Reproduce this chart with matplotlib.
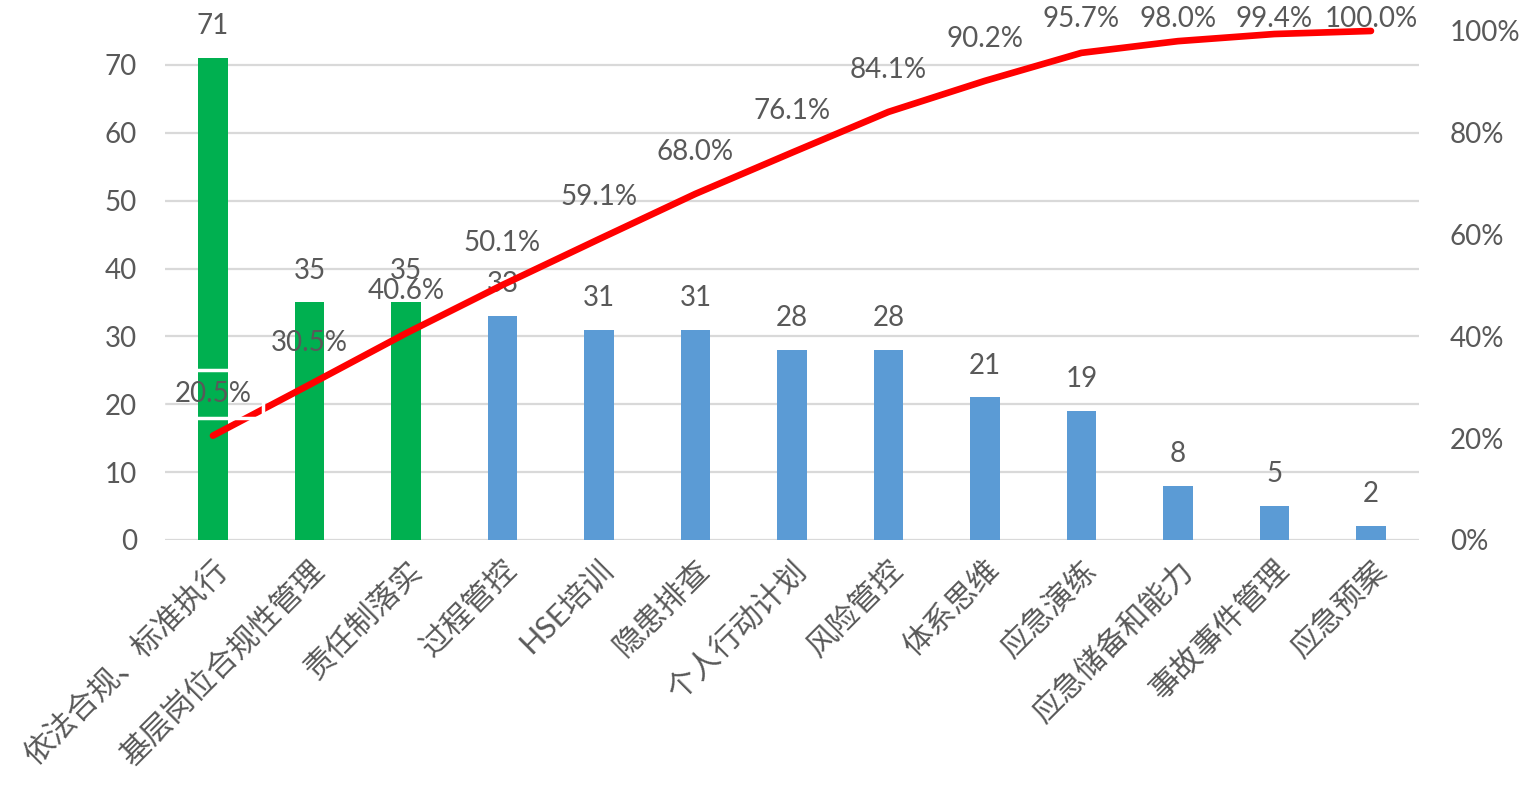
import matplotlib
matplotlib.use("Agg")
import matplotlib.pyplot as plt
from matplotlib.ticker import FuncFormatter

plt.rcParams['font.family'] = ['Lato', 'Noto Sans CJK SC', 'DejaVu Sans']

categories = ['依法合规、标准执行', '基层岗位合规性管理', '责任制落实', '过程管控', 'HSE培训',
              '隐患排查', '个人行动计划', '风险管控', '体系思维', '应急演练',
              '应急储备和能力', '事故事件管理', '应急预案']
counts = [71, 35, 35, 33, 31, 31, 28, 28, 21, 19, 8, 5, 2]
cum_pct = [20.5, 30.5, 40.6, 50.1, 59.1, 68.0, 76.1, 84.1, 90.2, 95.7, 98.0, 99.4, 100.0]
n_green = 3

GREEN = '#00B050'
BLUE = '#5B9BD5'
RED = '#FF0000'
TXT = '#595959'
GRID = '#D9D9D9'
FS = 20      # numbers
FS_CAT = 22  # category labels

fig = plt.figure(figsize=(15.28, 7.94), dpi=100)
ax = fig.add_axes([0.1078, 0.3199, 0.8210, 0.6411])
ax2 = ax.twinx()

x = list(range(len(categories)))
colors = [GREEN if i < n_green else BLUE for i in x]
ax.bar(x, counts, width=0.31, color=colors, zorder=2)
ax.set_xlim(-0.5, len(categories) - 0.5)
ax.set_ylim(0, 75)
ax.set_yticks(range(0, 71, 10))
for v in range(0, 71, 10):
    ax.axhline(v, color=GRID, lw=1.6, zorder=0)

for xi, c in zip(x, counts):
    ax.annotate(str(c), (xi, c), xytext=(0, 23), textcoords='offset points',
                ha='center', va='center', fontsize=FS, color=TXT, zorder=5,
                annotation_clip=False)

ax2.plot(x, [p / 100 for p in cum_pct], color=RED, lw=4.8, zorder=3,
         solid_capstyle='round', solid_joinstyle='round', clip_on=False)
ax2.set_ylim(0, 1.0)
ax2.set_yticks([0, 0.2, 0.4, 0.6, 0.8, 1.0])
ax2.yaxis.set_major_formatter(FuncFormatter(lambda v, _: f'{v * 100:.0f}%'))

# percentage labels sit above the points but stay inside the chart area
fig_h = fig.get_figheight() * fig.dpi
for i, (xi, p) in enumerate(zip(x, cum_pct)):
    px, py = ax2.transData.transform((xi, p / 100))
    ty = min(py + 42, fig_h - 19)
    kw = {}
    if i == 0:
        kw['bbox'] = dict(boxstyle='square,pad=0.4', fc='none', ec='white', lw=2.5)
    ax2.annotate(f'{p:.1f}%', (xi, p / 100), xytext=(px, ty), textcoords='figure pixels',
                 ha='center', va='center', fontsize=FS, color=TXT, zorder=6,
                 annotation_clip=False, **kw)

for a in (ax, ax2):
    for s in a.spines.values():
        s.set_visible(False)
    a.tick_params(length=0, labelsize=FS, labelcolor=TXT)
ax.tick_params(axis='y', pad=20)
ax2.tick_params(axis='y', pad=22)

ax.set_xticks(x)
ax.set_xticklabels(categories, rotation=45, ha='right', rotation_mode='anchor',
                   fontsize=FS_CAT, color=TXT)
ax.tick_params(axis='x', pad=11)

ax.set_zorder(ax2.get_zorder() - 1)
ax2.patch.set_visible(False)
ax.set_axisbelow(True)

fig.savefig('out.png', dpi=100)
